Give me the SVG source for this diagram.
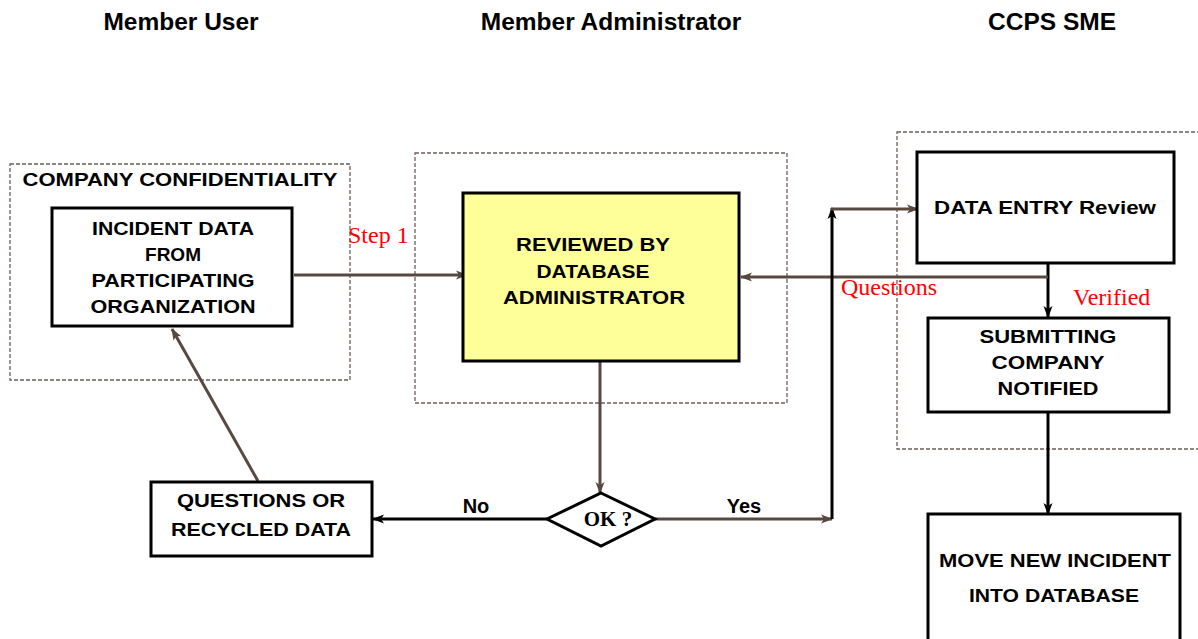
<svg xmlns="http://www.w3.org/2000/svg" width="1198" height="639" viewBox="0 0 1198 639">
<defs>
<style>
.hdr{font-family:"Liberation Sans",Arial,sans-serif;font-weight:bold;font-size:24.5px;fill:#000;text-anchor:middle}
.bx{font-family:"Liberation Sans",Arial,sans-serif;font-weight:bold;font-size:19px;fill:#000;text-anchor:middle}
.lbl{font-family:"Liberation Sans",Arial,sans-serif;font-weight:bold;font-size:20px;fill:#000;text-anchor:middle}
.red{font-family:"Liberation Serif","Times New Roman",serif;font-size:24px;fill:#ff0000}
.node{fill:#fff;stroke:#000;stroke-width:3}
.dash{fill:none;stroke:#6e5e58;stroke-width:1.3;stroke-dasharray:4 2}
.cb{fill:none;stroke:#584840;stroke-width:3}
.ck{fill:none;stroke:#000;stroke-width:3}
</style>
<marker id="ab" markerWidth="12" markerHeight="12" refX="11" refY="6" orient="auto" markerUnits="userSpaceOnUse">
<path d="M0,1.5 L12,6 L0,10.5 L3,6 Z" fill="#584840"/>
</marker>
<marker id="ak" markerWidth="12" markerHeight="12" refX="11" refY="6" orient="auto" markerUnits="userSpaceOnUse">
<path d="M0,1.5 L12,6 L0,10.5 L3,6 Z" fill="#000"/>
</marker>
</defs>
<rect width="1198" height="639" fill="#fff"/>

<g id="headers">
<text class="hdr" x="181" y="30">Member User</text>
<text class="hdr" x="611" y="30">Member Administrator</text>
<text class="hdr" x="1052" y="30">CCPS SME</text>
</g>

<g id="zone-confidentiality">
<rect class="dash" x="10" y="164" width="340" height="216"/>
<text class="bx" x="180" y="186" textLength="315" lengthAdjust="spacingAndGlyphs">COMPANY CONFIDENTIALITY</text>
</g>
<g id="zone-admin">
<rect class="dash" x="415" y="153" width="372" height="250"/>
</g>
<g id="zone-ccps">
<rect class="dash" x="897" y="132" width="320" height="317"/>
</g>

<g id="connectors">
<line class="cb" x1="294" y1="275" x2="467" y2="275" marker-end="url(#ab)"/>
<line class="ck" x1="1048" y1="263" x2="1048" y2="317" marker-end="url(#ak)"/>
<line class="cb" x1="1048" y1="277" x2="741" y2="277" stroke-width="2.5" marker-end="url(#ab)"/>
<line class="cb" x1="600" y1="362" x2="600" y2="493" marker-end="url(#ab)"/>
<line class="ck" x1="547" y1="519" x2="373" y2="519" marker-end="url(#ak)"/>
<line class="cb" x1="655" y1="519" x2="832" y2="519" marker-end="url(#ab)"/>
<line class="ck" x1="832" y1="519" x2="832" y2="208" marker-end="url(#ak)"/>
<line class="cb" x1="831" y1="209" x2="918" y2="209" marker-end="url(#ab)"/>
<line class="ck" x1="1048" y1="413" x2="1048" y2="514" marker-end="url(#ak)"/>
<line class="cb" x1="258" y1="481" x2="172" y2="329" marker-end="url(#ab)"/>
<text class="red" x="348" y="243">Step 1</text>
<text class="red" x="841" y="295">Questions</text>
<text class="red" x="1073" y="305" font-size="22">Verified</text>
<text class="lbl" x="476" y="513">No</text>
<text class="lbl" x="744" y="513">Yes</text>
</g>

<g id="incident-data">
<rect class="node" x="52" y="208" width="240" height="118"/>
<text class="bx" x="173" y="235" textLength="162" lengthAdjust="spacingAndGlyphs">INCIDENT DATA</text>
<text class="bx" x="173" y="261">FROM</text>
<text class="bx" x="173" y="287" textLength="163" lengthAdjust="spacingAndGlyphs">PARTICIPATING</text>
<text class="bx" x="173" y="313" textLength="165" lengthAdjust="spacingAndGlyphs">ORGANIZATION</text>
</g>

<g id="reviewed">
<rect x="463" y="193" width="276" height="168" fill="#ffff99" stroke="#000" stroke-width="3"/>
<text class="bx" x="593" y="251" textLength="154" lengthAdjust="spacingAndGlyphs">REVIEWED BY</text>
<text class="bx" x="593" y="278" textLength="113" lengthAdjust="spacingAndGlyphs">DATABASE</text>
<text class="bx" x="594" y="304" textLength="182" lengthAdjust="spacingAndGlyphs">ADMINISTRATOR</text>
</g>

<g id="data-entry">
<rect class="node" x="917" y="152" width="257" height="111"/>
<text class="bx" x="1045" y="214" textLength="222" lengthAdjust="spacingAndGlyphs">DATA ENTRY Review</text>
</g>

<g id="submitting">
<rect class="node" x="928" y="318" width="241" height="94"/>
<text class="bx" x="1048" y="343" textLength="137" lengthAdjust="spacingAndGlyphs">SUBMITTING</text>
<text class="bx" x="1048" y="369" textLength="113" lengthAdjust="spacingAndGlyphs">COMPANY</text>
<text class="bx" x="1048" y="395" textLength="101" lengthAdjust="spacingAndGlyphs">NOTIFIED</text>
</g>

<g id="move">
<rect class="node" x="928" y="514" width="252" height="140"/>
<text class="bx" x="1055" y="567" textLength="232" lengthAdjust="spacingAndGlyphs">MOVE NEW INCIDENT</text>
<text class="bx" x="1054" y="602" textLength="170" lengthAdjust="spacingAndGlyphs">INTO DATABASE</text>
</g>

<g id="questions-recycled">
<rect class="node" x="151" y="482" width="221" height="74"/>
<text class="bx" x="261" y="507" textLength="168" lengthAdjust="spacingAndGlyphs">QUESTIONS OR</text>
<text class="bx" x="261" y="536" textLength="180" lengthAdjust="spacingAndGlyphs">RECYCLED DATA</text>
</g>

<g id="ok-decision">
<polygon points="601,493 655,519 601,546 547,519" fill="#fff" stroke="#000" stroke-width="3"/>
<text x="608" y="526" font-family="'Liberation Serif','Times New Roman',serif" font-weight="bold" font-size="21" text-anchor="middle" fill="#000">OK ?</text>
</g>
</svg>
